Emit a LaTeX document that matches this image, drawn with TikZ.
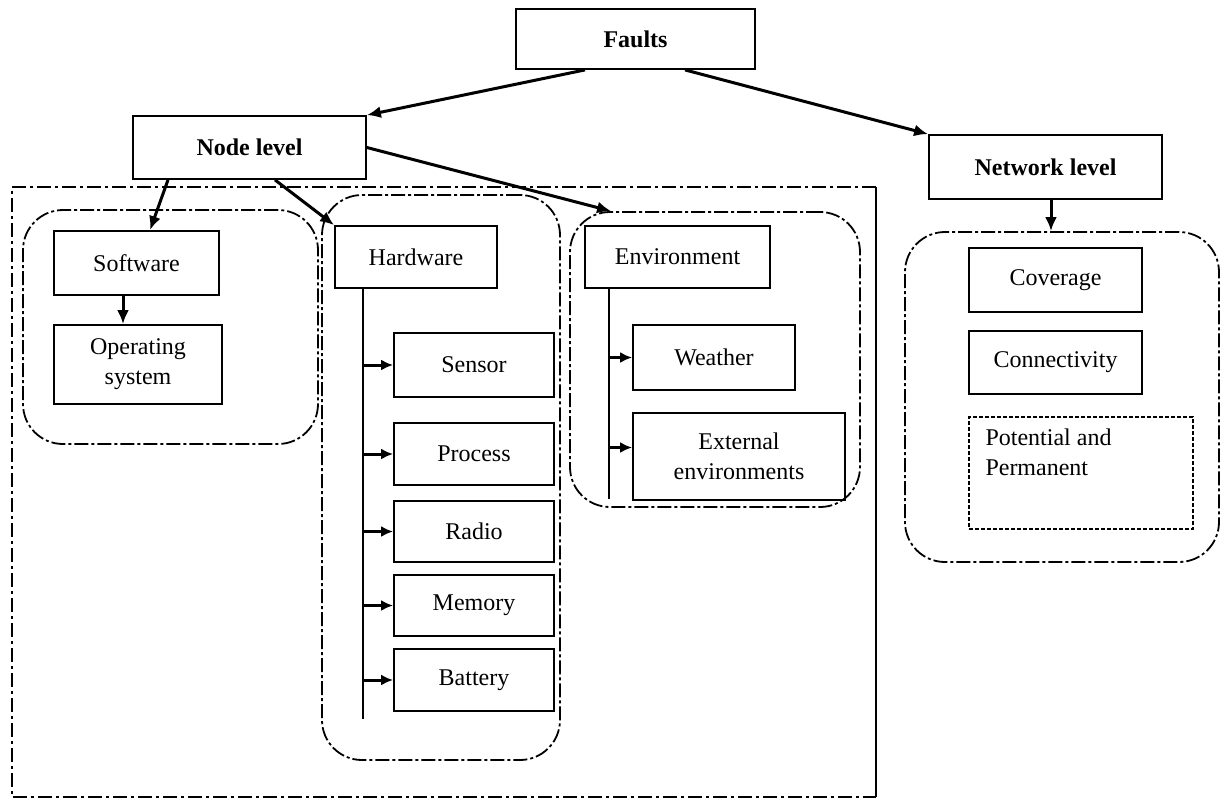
\documentclass[tikz,border=0pt]{standalone}
\usepackage{fontspec}
\setmainfont{Liberation Serif}
\usetikzlibrary{arrows.meta,calc}

\begin{document}
\begin{tikzpicture}[x=0.5pt,y=-0.5pt,
   box/.style={draw,line width=0.9pt,inner sep=1pt,align=center,font=\fontsize{12}{15}\selectfont},
   head/.style={box,font=\fontsize{12}{15}\selectfont\bfseries},
   group/.style={draw,line width=0.9pt,rounded corners=20pt,dash pattern=on 7pt off 1.5pt on 1.5pt off 1.5pt},
   arr/.style={line width=1.5pt,-{Latex[length=7pt,width=6pt]}},
   barr/.style={line width=1.5pt,-{Latex[length=6pt,width=5.5pt]}}]
   \useasboundingbox (0,0) rectangle (1223,800);
   \draw[line width=0.8pt,dash pattern=on 7pt off 2pt on 1.5pt off 2pt] (876,187) -- (12,187) -- (12,797) -- (876,797);
   \draw[line width=1.2pt] (876,187) -- (876,797);
   \node[group,minimum width=147.5pt,minimum height=117pt] (swgrp) at (170.5,327) {};
   \node[group,minimum width=119pt,minimum height=282.5pt] (hwgrp) at (441,477.5) {};
   \node[group,minimum width=145pt,minimum height=147.5pt] (envgrp) at (715,359.5) {};
   \node[group,minimum width=157pt,minimum height=165pt] (netgrp) at (1062,397) {};
   \node[head,minimum width=119.5pt,minimum height=30pt] (faults) at (635.5,39) {Faults};
   \node[head,minimum width=116.5pt,minimum height=31.5pt] (nodelvl) at (249.5,147.5) {Node level};
   \node[head,minimum width=116.5pt,minimum height=32pt] (netlvl) at (1045.5,167) {Network level};
   \node[box,minimum width=82.5pt,minimum height=32pt] (software) at (136.5,263) {Software};
   \node[box,minimum width=84pt,minimum height=39.5pt] (opsys) at (138,364.5) {Operating\\system};
   \node[box,minimum width=81pt,minimum height=31pt] (hardware) at (416,257) {Hardware};
   \node[box,minimum width=80pt,minimum height=32pt] (sensor) at (474,365) {Sensor};
   \node[box,minimum width=80pt,minimum height=31pt] (process) at (474,454) {Process};
   \node[box,minimum width=80pt,minimum height=30.5pt] (radio) at (474,531.5) {Radio};
   \node[box,minimum width=80pt,minimum height=30.5pt] (memory) at (474,605.5) {Memory};
   \node[box,minimum width=80pt,minimum height=31pt] (battery) at (474,680) {Battery};
   \node[box,minimum width=92.5pt,minimum height=31pt] (environment) at (677.5,257) {Environment};
   \node[box,minimum width=81pt,minimum height=32.5pt] (weather) at (714,357.5) {Weather};
   \node[box,minimum width=106pt,minimum height=43.5pt] (external) at (739,456.5) {External\\environments};
   \node[box,minimum width=86.5pt,minimum height=32pt] (coverage) at (1055.5,280) {Coverage};
   \node[box,minimum width=86.5pt,minimum height=31.5pt] (connectivity) at (1055.5,362.5) {Connectivity};
   \node[draw,line width=0.9pt,dash pattern=on 2pt off 1pt,minimum width=112pt,minimum height=56pt] (potential) at (1081,473) {};
   \node[anchor=north west,inner sep=0pt,align=left,font=\fontsize{12}{15}\selectfont] (pottext) at ($(potential.north west)+(17,12)$) {Potential and\\Permanent};
   \draw[arr] ($(faults.south)+(-50.5,0)$) -- (nodelvl.north east);
   \draw[arr] ($(faults.south)+(49.5,0)$) -- (netlvl.north west);
   \draw[arr] ($(nodelvl.south)+(-81.5,0)$) -- ($(software.north)+(13.5,0)$);
   \draw[arr] ($(nodelvl.south)+(25.5,0)$) -- (hardware.north west);
   \draw[arr] (nodelvl.east) -- ($(envgrp.north west)+(42,0)$);
   \draw[arr] ($(netlvl.south)+(5.5,0)$) -- ($(netgrp.north)+(-11,0)$);
   \draw[arr] ($(software.south)+(-13.5,0)$) -- ($(opsys.north)+(-15,0)$);
   \coordinate (hwbus) at ($(hardware.south)+(-53,0)$);
   \draw[line width=0.8pt] (hwbus) -- ++(0,430);
   \foreach \n in {sensor,process,radio,memory,battery}
      \draw[barr] (hwbus |- \n.west) -- (\n.west);
   \coordinate (envbus) at ($(environment.south)+(-68.5,0)$);
   \draw[line width=0.8pt] (envbus) -- ++(0,210);
   \draw[barr] (envbus |- weather.west) -- (weather.west);
   \draw[barr] ($(envbus |- external.west)+(0,-9)$) -- ($(external.west)+(0,-9)$);
\end{tikzpicture}
\end{document}
